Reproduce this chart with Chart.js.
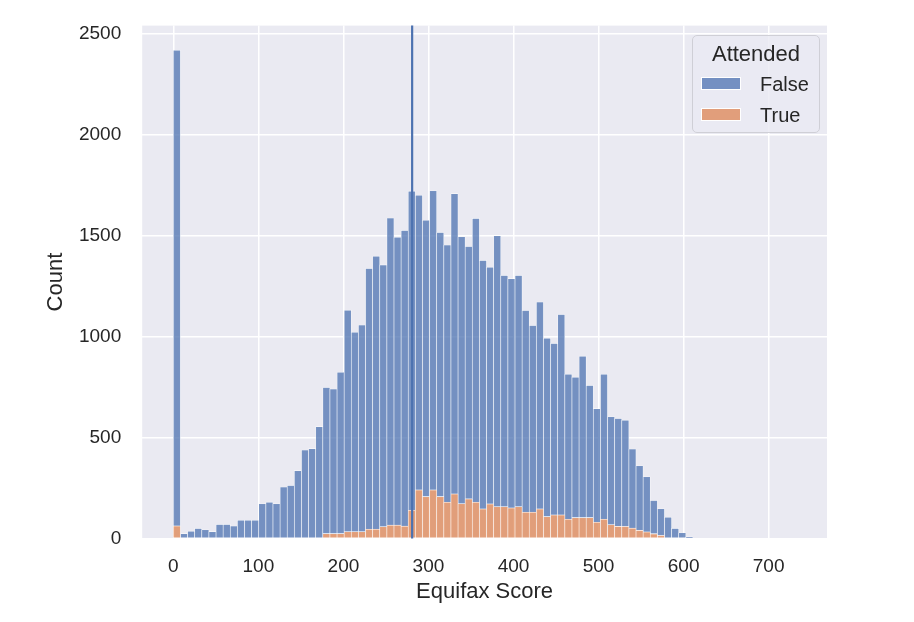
<!DOCTYPE html>
<html>
<head>
<meta charset="utf-8">
<title>Equifax Score histogram</title>
<script src="https://cdn.jsdelivr.net/npm/chart.js@4.4.1/dist/chart.umd.min.js"></script>
<style>
  html, body { margin: 0; padding: 0; background: #ffffff; }
  #wrap { position: relative; width: 914px; height: 622px; }
  #legend {
    position: absolute; left: 692px; top: 35px; width: 128px; height: 98px;
    box-sizing: border-box; border: 1px solid #cfcfd6; border-radius: 5px;
    background: rgba(234, 234, 242, 0.8);
    font-family: "Liberation Sans", Arial, sans-serif; color: #262626;
  }
  #legend .title { position: absolute; left: 0; right: 0; top: 5px; text-align: center; font-size: 22px; }
  #legend .row { position: absolute; left: 8px; height: 20px; font-size: 20px; line-height: 20px; }
  #legend .swatch { position: absolute; left: 0; top: 3px; width: 40px; height: 13px; border: 1px solid #fff; box-sizing: border-box; }
  #legend .label { position: absolute; left: 59px; top: 0; white-space: nowrap; }
</style>
</head>
<body>
<div id="wrap">
  <canvas id="histChart" width="914" height="622"></canvas>
  <div id="legend"></div>
</div>
<script>
// histogram bins (Equifax Score), width
const binWidth = 8.37;
const binCount = 88;

// counts per bin, stacked total and the "True" part
const totalCounts = [
  2418, 24, 36, 50, 43, 34, 70, 70, 62, 90,
  90, 90, 172, 180, 172, 255, 262, 336, 438, 445,
  554, 748, 740, 823, 1131, 1021, 1057, 1337, 1398, 1355,
  1587, 1492, 1526, 1720, 1700, 1576, 1722, 1515, 1453, 1708,
  1494, 1446, 1585, 1377, 1343, 1500, 1303, 1287, 1303, 1129,
  1055, 1171, 992, 966, 1109, 813, 799, 903, 758, 643,
  813, 603, 594, 586, 443, 360, 306, 188, 147, 105,
  50, 28, 8
];
const trueCounts = [
  62, 0, 0, 0, 0, 0, 0, 0, 0, 0,
  0, 0, 0, 0, 0, 0, 0, 0, 0, 0,
  0, 24, 24, 24, 33, 33, 33, 46, 46, 58,
  66, 66, 61, 140, 240, 207, 240, 207, 179, 220,
  172, 196, 179, 146, 171, 157, 157, 151, 157, 130,
  130, 146, 108, 116, 116, 95, 103, 103, 103, 80,
  95, 68, 60, 59, 51, 40, 32, 23, 15, 0,
  0, 0, 0
];

const xTicks = [0, 100, 200, 300, 400, 500, 600, 700];
const yTicks = [0, 500, 1000, 1500, 2000, 2500];
const xMin = -36.6;
const xMax = 768.6;
const yMax = 2540;
const markerScore = 280.8; // vertical line

const blue = 'rgba(76, 114, 176, 0.75)';
const orange = 'rgba(221, 132, 82, 0.75)';
const textColor = '#262626';
const fontFamily = '"Liberation Sans", Arial, sans-serif';

function binPoints(counts) {
  const pts = [];
  for (let i = 0; i < binCount; i++) {
    pts.push({ x: (i + 0.5) * binWidth, y: counts[i] || 0 });
  }
  return pts;
}

const falseCounts = totalCounts.map((t, i) => t - (trueCounts[i] || 0));

// keep the plot box where the picture has it, labels may overhang
function noLabelPadding(scale) {
  scale.paddingTop = 0;
  scale.paddingBottom = 0;
  scale.paddingLeft = 0;
  scale.paddingRight = 0;
}

const plotBackground = {
  id: 'plotBackground',
  beforeDraw(chart) {
    const { ctx, chartArea } = chart;
    ctx.save();
    ctx.fillStyle = '#eaeaf2';
    ctx.fillRect(chartArea.left, chartArea.top, chartArea.right - chartArea.left, chartArea.bottom - chartArea.top);
    ctx.restore();
  }
};

const markerLine = {
  id: 'markerLine',
  afterDatasetsDraw(chart) {
    const { ctx, chartArea, scales } = chart;
    const px = scales.x.getPixelForValue(markerScore);
    ctx.save();
    ctx.strokeStyle = '#4c72b0';
    ctx.lineWidth = 2.2;
    ctx.beginPath();
    ctx.moveTo(px, chartArea.top);
    ctx.lineTo(px, chartArea.bottom);
    ctx.stroke();
    ctx.restore();
  }
};

const barStyle = {
  borderColor: 'rgba(255, 255, 255, 0.85)',
  borderWidth: 0.6,
  borderSkipped: false,
  grouped: false,
  barPercentage: 1,
  categoryPercentage: 1
};

const histChart = new Chart(document.getElementById('histChart').getContext('2d'), {
  type: 'bar',
  data: {
    datasets: [
      Object.assign({ label: 'True', data: binPoints(trueCounts), backgroundColor: orange }, barStyle),
      Object.assign({ label: 'False', data: binPoints(falseCounts), backgroundColor: blue }, barStyle)
    ]
  },
  options: {
    responsive: false,
    animation: false,
    devicePixelRatio: 1,
    layout: { padding: { left: 0, right: 87, top: 25.6, bottom: 0 } },
    plugins: {
      legend: { display: false },
      tooltip: { enabled: false }
    },
    scales: {
      x: {
        type: 'linear',
        offset: false,
        min: xMin,
        max: xMax,
        grid: { color: '#ffffff', lineWidth: 1.5, drawTicks: false, offset: false },
        border: { display: false },
        ticks: { color: textColor, font: { family: fontFamily, size: 19 }, padding: 17, includeBounds: false, callback: (v) => String(v) },
        afterBuildTicks: (scale) => { scale.ticks = xTicks.map(v => ({ value: v })); },
        afterFit: (scale) => { scale.height = 83.5; noLabelPadding(scale); },
        title: {
          display: true, text: 'Equifax Score', color: textColor,
          font: { family: fontFamily, size: 22 }, padding: { top: 0, bottom: 17 }
        }
      },
      y: {
        stacked: true,
        min: 0,
        max: yMax,
        grid: { color: '#ffffff', lineWidth: 1.5, drawTicks: false },
        border: { display: false },
        ticks: { color: textColor, font: { family: fontFamily, size: 19 }, padding: 21, callback: (v) => String(v) },
        afterBuildTicks: (scale) => { scale.ticks = yTicks.map(v => ({ value: v })); },
        afterFit: (scale) => { scale.width = 142.2; noLabelPadding(scale); },
        title: {
          display: true, text: 'Count', color: textColor,
          font: { family: fontFamily, size: 22 }, padding: { top: 43, bottom: 0 }
        }
      }
    }
  },
  plugins: [plotBackground, markerLine]
});

// legend box like seaborn's, listed in hue order
const legendEl = document.getElementById('legend');
legendEl.innerHTML = '<div class="title">Attended</div>';
const legendOrder = ['False', 'True'];
legendOrder.forEach((name, i) => {
  const ds = histChart.data.datasets.find(d => d.label === name);
  const row = document.createElement('div');
  row.className = 'row';
  row.style.top = (38 + i * 31) + 'px';
  row.innerHTML = `<span class="swatch" style="background:${ds.backgroundColor}"></span><span class="label">${name}</span>`;
  legendEl.appendChild(row);
});
</script>
</body>
</html>
